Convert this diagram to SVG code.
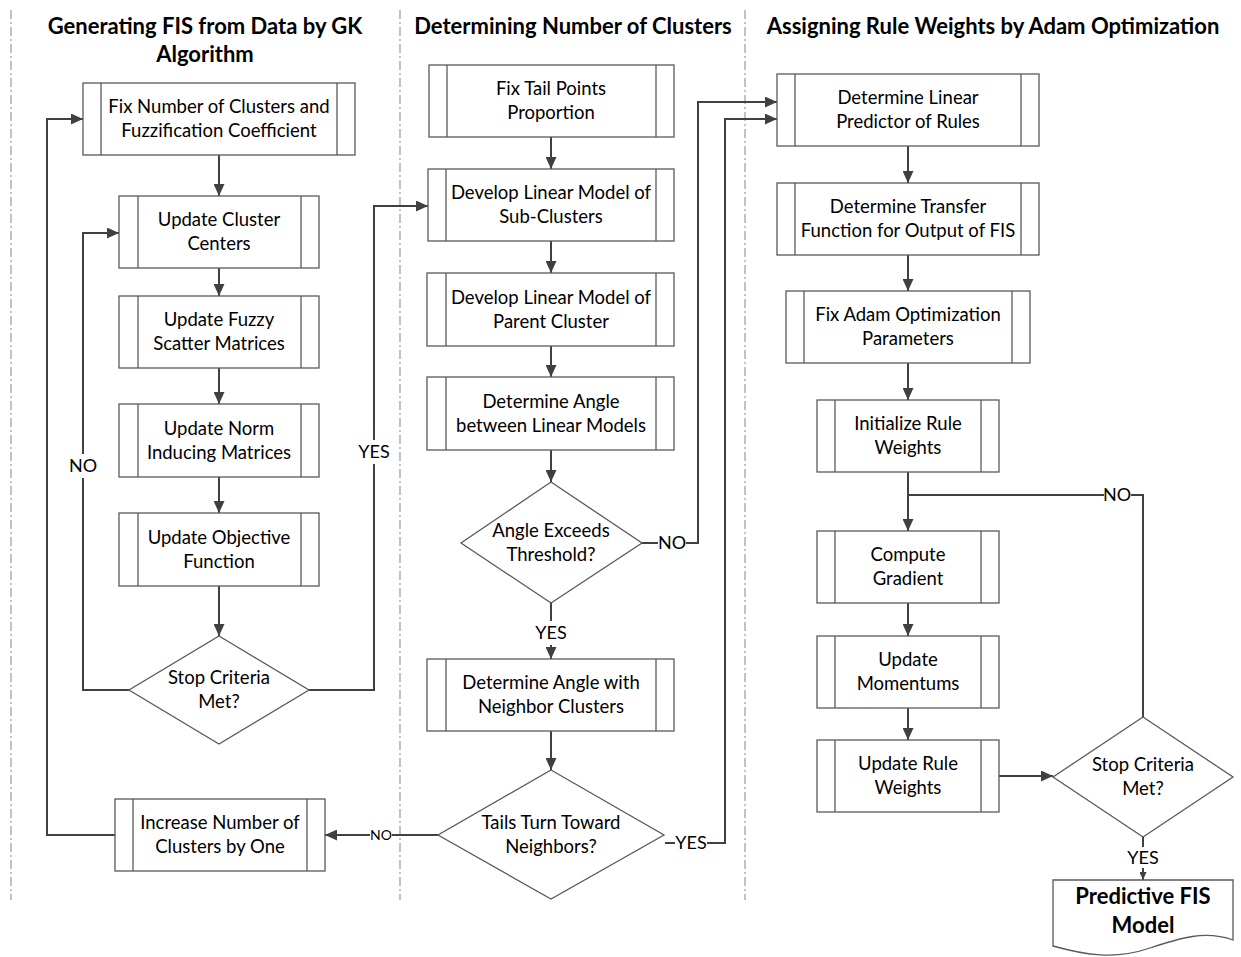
<svg xmlns="http://www.w3.org/2000/svg" width="1241" height="957" viewBox="0 0 1241 957">
<defs>
<marker id="arr" viewBox="0 0 12 11" refX="12" refY="5.5" markerUnits="userSpaceOnUse" markerWidth="12" markerHeight="11" orient="auto">
<path d="M0,0 L12,5.5 L0,11 Z" fill="#404040"/>
</marker>
<marker id="arrs" viewBox="0 0 8 7" refX="8" refY="3.5" markerUnits="userSpaceOnUse" markerWidth="8" markerHeight="7" orient="auto">
<path d="M0,0 L8,3.5 L0,7 Z" fill="#404040"/>
</marker>
</defs>
<style>
.box{fill:#fff;stroke:#5a5a5a;stroke-width:1.3}
.in{stroke:#5a5a5a;stroke-width:1.3}
.t{font-family:Lato,"Liberation Sans",sans-serif;font-size:18.5px;fill:#000;text-anchor:middle}
.h{font-family:Lato,"Liberation Sans",sans-serif;font-size:22px;font-weight:bold;fill:#000;text-anchor:middle}
.c{fill:none;stroke:#404040;stroke-width:2}
.ca{fill:none;stroke:#404040;stroke-width:2;marker-end:url(#arr)}
.lb{font-family:Lato,"Liberation Sans",sans-serif;font-size:18px;fill:#000;text-anchor:middle}
.ls{font-family:Lato,"Liberation Sans",sans-serif;font-size:14px;fill:#000;text-anchor:middle}
.bg{fill:#fff}
.div{stroke:#999;stroke-width:1.2;stroke-dasharray:9 3 2 3}
</style>
<rect width="1241" height="957" fill="#fff"/>
<g id="dividers">
<line class="div" x1="11" y1="10" x2="11" y2="900"/>
<line class="div" x1="400" y1="10" x2="400" y2="900"/>
<line class="div" x1="745" y1="10" x2="745" y2="900"/>
</g>
<g id="headers">
<text class="h" x="205" y="34">Generating FIS from Data by GK</text>
<text class="h" x="205" y="62">Algorithm</text>
<text class="h" x="573" y="34">Determining Number of Clusters</text>
<text class="h" x="993" y="34">Assigning Rule Weights by Adam Optimization</text>
</g>
<g id="connectors">
<line class="ca" x1="219" y1="155" x2="219" y2="196"/>
<line class="ca" x1="219" y1="268" x2="219" y2="296"/>
<line class="ca" x1="219" y1="368" x2="219" y2="404"/>
<line class="ca" x1="219" y1="477" x2="219" y2="513"/>
<line class="ca" x1="219" y1="586" x2="219" y2="636"/>
<polyline class="ca" points="129,690 83,690 83,233 119,233"/>
<polyline class="ca" points="309,690 374,690 374,206 428,206"/>
<polyline class="ca" points="115,835 47,835 47,119 83,119"/>
<line class="ca" x1="551" y1="137" x2="551" y2="169"/>
<line class="ca" x1="551" y1="241" x2="551" y2="273"/>
<line class="ca" x1="551" y1="346" x2="551" y2="377"/>
<line class="ca" x1="551" y1="450" x2="551" y2="482"/>
<line class="ca" x1="551" y1="603" x2="551" y2="659"/>
<line class="ca" x1="551" y1="731" x2="551" y2="770"/>
<polyline class="ca" points="642,543 698,543 698,102 777,102"/>
<line class="ca" x1="438" y1="835" x2="325" y2="835"/>
<polyline class="ca" points="665,843 725,843 725,119 777,119"/>
<line class="ca" x1="908" y1="146" x2="908" y2="183"/>
<line class="ca" x1="908" y1="255" x2="908" y2="291"/>
<line class="ca" x1="908" y1="363" x2="908" y2="400"/>
<line class="ca" x1="908" y1="472" x2="908" y2="531"/>
<line class="ca" x1="908" y1="603" x2="908" y2="636"/>
<line class="ca" x1="908" y1="708" x2="908" y2="740"/>
<polyline class="c" points="1143,717 1143,495 908,495"/>
<line class="ca" x1="999" y1="776" x2="1053" y2="776"/>
<line class="c" x1="1143" y1="837" x2="1143" y2="880" style="marker-end:url(#arrs)"/>
<g id="labels">
<rect class="bg" x="70" y="454" width="26" height="24"/><text class="lb" x="83" y="472">NO</text>
<rect class="bg" x="357" y="440" width="34" height="24"/><text class="lb" x="374" y="458">YES</text>
<rect class="bg" x="658" y="531" width="28" height="24"/><text class="lb" x="672" y="549">NO</text>
<rect class="bg" x="533" y="621" width="36" height="24"/><text class="lb" x="551" y="639">YES</text>
<rect class="bg" x="370" y="826" width="22" height="18"/><text class="ls" x="381" y="840">NO</text>
<rect class="bg" x="675" y="831" width="32" height="24"/><text class="lb" x="691" y="849">YES</text>
<rect class="bg" x="1104" y="483" width="27" height="24"/><text class="lb" x="1117" y="501">NO</text>
<rect class="bg" x="1125" y="847" width="36" height="21"/><text class="lb" x="1143" y="864">YES</text>
</g>
</g>
<g id="n1"><rect class="box" x="83" y="83" width="272" height="72"/><line class="in" x1="101" y1="83" x2="101" y2="155"/><line class="in" x1="337" y1="83" x2="337" y2="155"/><text class="t" x="219" y="113">Fix Number of Clusters and</text><text class="t" x="219" y="137">Fuzzification Coefficient</text></g>
<g id="n2"><rect class="box" x="119" y="196" width="200" height="72"/><line class="in" x1="138" y1="196" x2="138" y2="268"/><line class="in" x1="301" y1="196" x2="301" y2="268"/><text class="t" x="219" y="226">Update Cluster</text><text class="t" x="219" y="250">Centers</text></g>
<g id="n3"><rect class="box" x="119" y="296" width="200" height="72"/><line class="in" x1="138" y1="296" x2="138" y2="368"/><line class="in" x1="301" y1="296" x2="301" y2="368"/><text class="t" x="219" y="326">Update Fuzzy</text><text class="t" x="219" y="350">Scatter Matrices</text></g>
<g id="n4"><rect class="box" x="119" y="404" width="200" height="73"/><line class="in" x1="138" y1="404" x2="138" y2="477"/><line class="in" x1="301" y1="404" x2="301" y2="477"/><text class="t" x="219" y="435">Update Norm</text><text class="t" x="219" y="459">Inducing Matrices</text></g>
<g id="n5"><rect class="box" x="119" y="513" width="200" height="73"/><line class="in" x1="138" y1="513" x2="138" y2="586"/><line class="in" x1="301" y1="513" x2="301" y2="586"/><text class="t" x="219" y="544">Update Objective</text><text class="t" x="219" y="568">Function</text></g>
<g id="d1"><polygon class="box" points="219,636 309,690 219,744 129,690"/><text class="t" x="219" y="684">Stop Criteria</text><text class="t" x="219" y="708">Met?</text></g>
<g id="n6"><rect class="box" x="115" y="799" width="210" height="72"/><line class="in" x1="133" y1="799" x2="133" y2="871"/><line class="in" x1="307" y1="799" x2="307" y2="871"/><text class="t" x="220" y="829">Increase Number of</text><text class="t" x="220" y="853">Clusters by One</text></g>
<g id="m1"><rect class="box" x="429" y="65" width="245" height="72"/><line class="in" x1="447" y1="65" x2="447" y2="137"/><line class="in" x1="656" y1="65" x2="656" y2="137"/><text class="t" x="551" y="95">Fix Tail Points</text><text class="t" x="551" y="119">Proportion</text></g>
<g id="m2"><rect class="box" x="428" y="169" width="246" height="72"/><line class="in" x1="446" y1="169" x2="446" y2="241"/><line class="in" x1="656" y1="169" x2="656" y2="241"/><text class="t" x="551" y="199">Develop Linear Model of</text><text class="t" x="551" y="223">Sub-Clusters</text></g>
<g id="m3"><rect class="box" x="427" y="273" width="247" height="73"/><line class="in" x1="446" y1="273" x2="446" y2="346"/><line class="in" x1="656" y1="273" x2="656" y2="346"/><text class="t" x="551" y="304">Develop Linear Model of</text><text class="t" x="551" y="328">Parent Cluster</text></g>
<g id="m4"><rect class="box" x="427" y="377" width="247" height="73"/><line class="in" x1="446" y1="377" x2="446" y2="450"/><line class="in" x1="656" y1="377" x2="656" y2="450"/><text class="t" x="551" y="408">Determine Angle</text><text class="t" x="551" y="432">between Linear Models</text></g>
<g id="d2"><polygon class="box" points="551,482 642,543 551,603 461,543"/><text class="t" x="551" y="537">Angle Exceeds</text><text class="t" x="551" y="561">Threshold?</text></g>
<g id="m5"><rect class="box" x="427" y="659" width="247" height="72"/><line class="in" x1="446" y1="659" x2="446" y2="731"/><line class="in" x1="656" y1="659" x2="656" y2="731"/><text class="t" x="551" y="689">Determine Angle with</text><text class="t" x="551" y="713">Neighbor Clusters</text></g>
<g id="d3"><polygon class="box" points="551,770 664,835 551,899 438,835"/><text class="t" x="551" y="829">Tails Turn Toward</text><text class="t" x="551" y="853">Neighbors?</text></g>
<g id="r1"><rect class="box" x="777" y="74" width="262" height="72"/><line class="in" x1="795" y1="74" x2="795" y2="146"/><line class="in" x1="1021" y1="74" x2="1021" y2="146"/><text class="t" x="908" y="104">Determine Linear</text><text class="t" x="908" y="128">Predictor of Rules</text></g>
<g id="r2"><rect class="box" x="777" y="183" width="262" height="72"/><line class="in" x1="795" y1="183" x2="795" y2="255"/><line class="in" x1="1021" y1="183" x2="1021" y2="255"/><text class="t" x="908" y="213">Determine Transfer</text><text class="t" x="908" y="237">Function for Output of FIS</text></g>
<g id="r3"><rect class="box" x="786" y="291" width="244" height="72"/><line class="in" x1="804" y1="291" x2="804" y2="363"/><line class="in" x1="1012" y1="291" x2="1012" y2="363"/><text class="t" x="908" y="321">Fix Adam Optimization</text><text class="t" x="908" y="345">Parameters</text></g>
<g id="r4"><rect class="box" x="817" y="400" width="182" height="72"/><line class="in" x1="835" y1="400" x2="835" y2="472"/><line class="in" x1="981" y1="400" x2="981" y2="472"/><text class="t" x="908" y="430">Initialize Rule</text><text class="t" x="908" y="454">Weights</text></g>
<g id="r5"><rect class="box" x="817" y="531" width="182" height="72"/><line class="in" x1="835" y1="531" x2="835" y2="603"/><line class="in" x1="981" y1="531" x2="981" y2="603"/><text class="t" x="908" y="561">Compute</text><text class="t" x="908" y="585">Gradient</text></g>
<g id="r6"><rect class="box" x="817" y="636" width="182" height="72"/><line class="in" x1="835" y1="636" x2="835" y2="708"/><line class="in" x1="981" y1="636" x2="981" y2="708"/><text class="t" x="908" y="666">Update</text><text class="t" x="908" y="690">Momentums</text></g>
<g id="r7"><rect class="box" x="817" y="740" width="182" height="72"/><line class="in" x1="835" y1="740" x2="835" y2="812"/><line class="in" x1="981" y1="740" x2="981" y2="812"/><text class="t" x="908" y="770">Update Rule</text><text class="t" x="908" y="794">Weights</text></g>
<g id="d4"><polygon class="box" points="1143,717 1233,777 1143,837 1053,777"/><text class="t" x="1143" y="771">Stop Criteria</text><text class="t" x="1143" y="795">Met?</text></g>
<g id="doc"><path class="box" d="M1053,880 H1233 V940 C1205,930 1180,938 1150,948 C1115,960 1085,955 1053,946 Z"/><text class="h" x="1143" y="904">Predictive FIS</text><text class="h" x="1143" y="933">Model</text></g>
</svg>
